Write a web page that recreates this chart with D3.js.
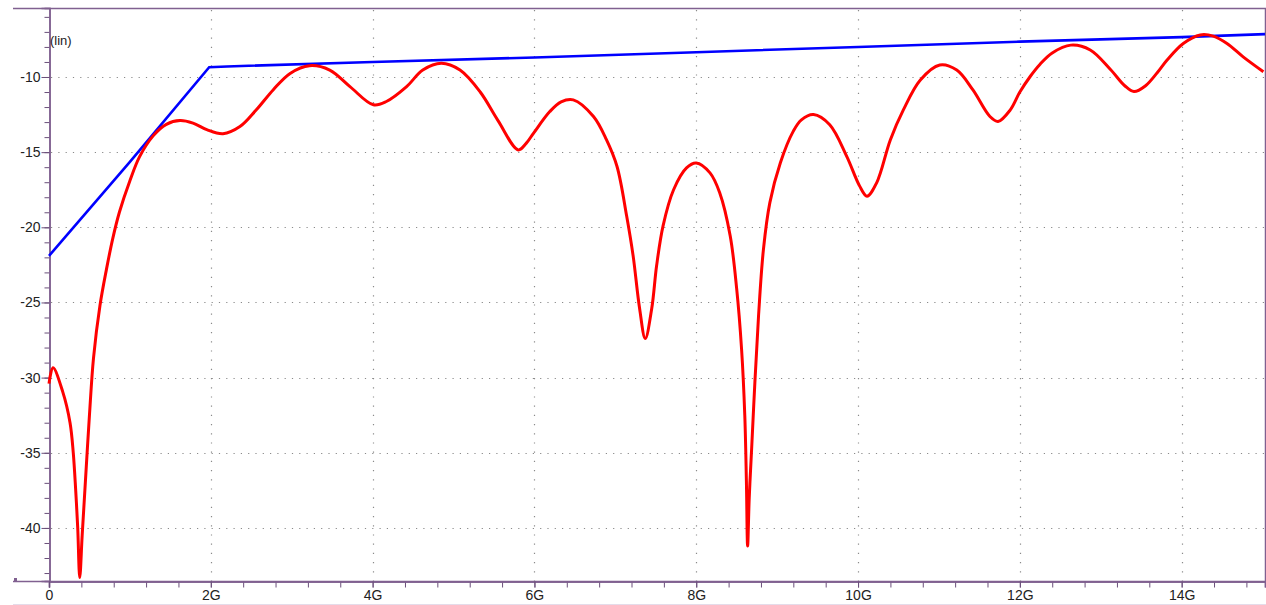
<!DOCTYPE html>
<html>
<head>
<meta charset="utf-8">
<script src="https://cdn.jsdelivr.net/npm/d3@7"></script>
<style>
  body { margin: 0; background: #fff; }
  svg { display: block; font-family: "Liberation Sans", Arial, sans-serif; }
  .grid line { stroke: #8a8a8a; stroke-width: 1.2; }
</style>
</head>
<body>
<svg id="chart" width="1266" height="605"></svg>
<script>
// frequency in GHz, values in lin
var blueFreq = [0, 1.0, 1.98, 2.2, 4, 6, 8, 10, 12, 14, 15.03];
var blueVal = [-21.9, -15.65, -9.35, -9.3, -9.0, -8.7, -8.35, -8.0, -7.65, -7.35, -7.15];

var redFreq = [0, 0.05, 0.17, 0.26, 0.3, 0.33, 0.355, 0.38, 0.41, 0.45, 0.5, 0.55, 0.63, 0.71, 0.79, 0.87,
  1.0, 1.12, 1.29, 1.45, 1.62, 1.78, 1.95, 2.15, 2.36, 2.56, 2.77, 2.98, 3.22, 3.47, 3.72, 4.01,
  4.17, 4.42, 4.62, 4.85, 5.08, 5.33, 5.55, 5.8, 5.9, 5.99, 6.19, 6.33, 6.48, 6.73, 6.89, 7.02, 7.14, 7.22,
  7.3, 7.37, 7.45, 7.51, 7.59, 7.72, 7.88, 8.0, 8.17, 8.29, 8.42, 8.5, 8.56, 8.6, 8.62, 8.635,
  8.655, 8.685, 8.725, 8.77, 8.83, 8.91, 9.04, 9.2, 9.3, 9.45, 9.65, 9.86, 10.02, 10.11, 10.23, 10.4,
  10.56, 10.77, 11.01, 11.22, 11.42, 11.63, 11.73, 11.88, 12.0, 12.13, 12.25, 12.4, 12.63, 12.87,
  13.12, 13.3, 13.41, 13.55, 13.7, 13.82, 14.02, 14.23, 14.39, 14.56, 14.76, 15.01];
var redVal = [-30.4, -29.35, -30.95, -33.0, -35.0, -37.5, -40.0, -43.3, -40.5, -36.9, -32.5, -28.7, -25.2, -22.8, -20.7, -19.0,
  -16.9, -15.3, -13.9, -13.15, -12.9, -13.07, -13.5, -13.77, -13.3, -12.2, -10.86, -9.76, -9.25, -9.54, -10.64, -11.85,
  -11.63, -10.64, -9.54, -9.09, -9.54, -11.0, -12.9, -14.85, -14.4, -13.73, -12.3, -11.65, -11.52, -12.63, -14.17, -15.94, -19.25, -21.9,
  -25.4, -27.4, -25.4, -22.56, -19.9, -17.5, -16.05, -15.72, -16.38, -17.7, -20.58, -24.1, -28.08, -32.5, -36.9, -41.2,
  -38.0, -34.7, -30.3, -25.9, -21.5, -18.36, -15.7, -13.6, -12.85, -12.5, -13.18, -15.28, -17.26, -17.93, -17.04, -14.17,
  -12.19, -10.2, -9.2, -9.54, -10.86, -12.63, -12.96, -12.2, -11.0, -9.95, -9.15, -8.4, -7.88, -8.2,
  -9.5, -10.6, -10.97, -10.6, -9.7, -8.87, -7.77, -7.2, -7.28, -7.77, -8.66, -9.65];

var xMajor = [0, 2, 4, 6, 8, 10, 12, 14];
var xLabels = ["0", "2G", "4G", "6G", "8G", "10G", "12G", "14G"];
var yMajor = [-10, -15, -20, -25, -30, -35, -40];
var yLabels = ["-10", "-15", "-20", "-25", "-30", "-35", "-40"];
var unitLabel = "(lin)";

(function init() {
  draw();
})();

function draw() {

  var frameColor = "#806090";
  var left = 49, right = 1265, top = 8, bottom = 581;

  var svg = d3.select("#chart");

  var x = d3.scaleLinear()
      .domain([0, 15.03])
      .range([left, right]);

  var y = d3.scaleLinear()
      .domain([-43.53, -5.41])
      .range([bottom, top]);

  // dotted grid
  var grid = svg.append("g").attr("class", "grid");

  grid.selectAll("line.h")
      .data(yMajor)
      .enter()
    .append("line")
      .attr("class", "h")
      .attr("x1", left + 2)
      .attr("x2", right)
      .attr("y1", function (d) { return Math.round(y(d)) + 0.5; })
      .attr("y2", function (d) { return Math.round(y(d)) + 0.5; })
      .attr("stroke-dasharray", "1.2,6.1");

  grid.selectAll("line.v")
      .data(xMajor.slice(1))
      .enter()
    .append("line")
      .attr("class", "v")
      .attr("y1", top + 2)
      .attr("y2", bottom)
      .attr("x1", function (d) { return Math.round(x(d)) + 0.5; })
      .attr("x2", function (d) { return Math.round(x(d)) + 0.5; })
      .attr("stroke-dasharray", "1.2,8");

  // frame
  svg.append("path")
      .attr("d", "M13," + (top + 0.5) + "H" + (right + 0.5) + "V" + (bottom + 0.5) + "H13")
      .attr("fill", "none")
      .attr("stroke", frameColor)
      .attr("stroke-width", 1.5);

  svg.append("line")
      .attr("x1", 13).attr("x2", 1266)
      .attr("y1", 604.5).attr("y2", 604.5)
      .attr("stroke", "#e4dcea");

  svg.append("rect")
      .attr("x", 14).attr("y", 578)
      .attr("width", 3).attr("height", 3)
      .attr("fill", frameColor);

  // y axis
  var yAxisMinor = d3.axisLeft(y)
      .tickValues(d3.range(-43, -5))
      .tickSize(5)
      .tickFormat("");

  var yAxis = d3.axisLeft(y)
      .tickValues(yMajor)
      .tickSize(8)
      .tickPadding(1)
      .tickFormat(function (d, i) { return yLabels[i]; });

  svg.append("g")
      .attr("class", "axis")
      .attr("transform", "translate(" + (left + 0.5) + ",0)")
      .call(yAxisMinor);

  svg.append("g")
      .attr("class", "axis")
      .attr("transform", "translate(" + (left + 0.5) + ",0)")
      .call(yAxis);

  // x axis
  var xAxisMinor = d3.axisBottom(x)
      .tickValues(d3.range(0, 15.01, 0.4))
      .tickSize(6)
      .tickFormat("");

  var xAxis = d3.axisBottom(x)
      .tickValues(xMajor)
      .tickSize(6)
      .tickPadding(3)
      .tickFormat(function (d, i) { return xLabels[i]; });

  svg.append("g")
      .attr("class", "axis")
      .attr("transform", "translate(0," + (bottom + 0.5) + ")")
      .call(xAxisMinor);

  svg.append("g")
      .attr("class", "axis")
      .attr("transform", "translate(0," + (bottom + 0.5) + ")")
      .call(xAxis);

  svg.selectAll(".axis")
      .attr("font-family", "Liberation Sans, Arial, sans-serif")
      .attr("font-size", 14);
  svg.selectAll(".axis text")
      .attr("fill", "#222");
  svg.selectAll(".axis .domain")
      .attr("stroke", frameColor)
      .attr("stroke-width", 1.5);
  svg.selectAll(".axis .tick line")
      .attr("stroke", "#6a4f7a");

  svg.append("text")
      .attr("x", left + 1)
      .attr("y", 45)
      .attr("font-size", 13)
      .attr("fill", "#222")
      .text(unitLabel);

  // series
  var line = d3.line()
      .x(function (d) { return x(d[0]); })
      .y(function (d) { return y(d[1]); });

  svg.append("path")
      .datum(d3.zip(blueFreq, blueVal))
      .attr("fill", "none")
      .attr("stroke", "#0000ff")
      .attr("stroke-width", 2.6)
      .attr("d", line);

  svg.append("path")
      .datum(d3.zip(redFreq, redVal))
      .attr("fill", "none")
      .attr("stroke", "#ff0000")
      .attr("stroke-width", 3)
      .attr("stroke-linejoin", "round")
      .attr("d", line.curve(d3.curveCatmullRom.alpha(0.5)));
}
</script>
</body>
</html>
